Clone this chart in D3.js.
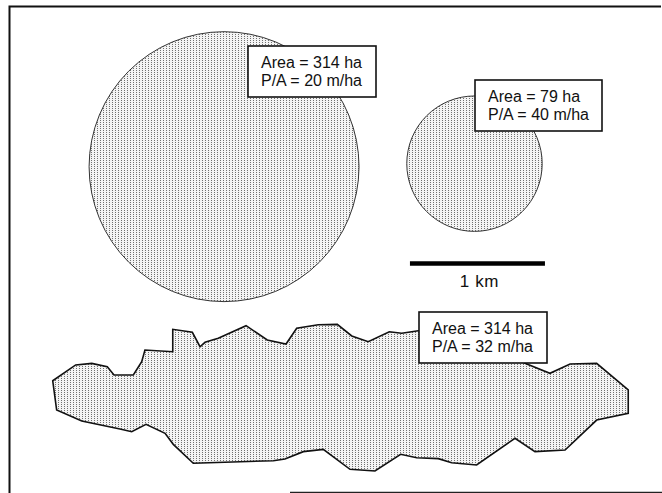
<!DOCTYPE html>
<html>
<head>
<meta charset="utf-8">
<script src="https://cdn.jsdelivr.net/npm/d3@7"></script>
<style>
  html, body { margin: 0; padding: 0; background: #fff; }
  svg { display: block; }
  text { font-family: "Liberation Sans", Arial, sans-serif; fill: #111; }
</style>
</head>
<body>
<div id="chart"></div>
<script>
// ---------- DATA ----------
// Patch areas (ha) and perimeter/area ratios (m/ha)
const patchNames = ["Large circle", "Small circle", "Irregular patch"];
const patchAreas = [314, 79, 314];
const patchPA = [20, 40, 32];
// Circle centres in map units (km)
const circleCentersKm = [[1.593, 1.190], [3.448, 1.168]];
// Irregular patch outline in map units (km)
const irregularOutlineKm = [
  [0.324, 2.776], [0.494, 2.659], [0.613, 2.647], [0.728, 2.672], [0.778, 2.733],
  [0.921, 2.733], [0.983, 2.635], [1.007, 2.548], [1.213, 2.561], [1.213, 2.395],
  [1.358, 2.417], [1.415, 2.524], [1.452, 2.491], [1.550, 2.461], [1.756, 2.368],
  [1.913, 2.474], [2.052, 2.504], [2.131, 2.387], [2.291, 2.361], [2.432, 2.358],
  [2.539, 2.444], [2.661, 2.487], [2.817, 2.413], [2.909, 2.424], [3.032, 2.405],
  [3.415, 2.363], [3.674, 2.563], [3.822, 2.647], [4.007, 2.721], [4.156, 2.652],
  [4.353, 2.647], [4.587, 2.844], [4.587, 3.017], [4.353, 3.067], [4.119, 3.289],
  [3.896, 3.301], [3.748, 3.202], [3.464, 3.400], [3.279, 3.383], [3.180, 3.353],
  [3.020, 3.346], [2.901, 3.321], [2.711, 3.444], [2.526, 3.432], [2.328, 3.284],
  [2.180, 3.301], [2.044, 3.356], [1.958, 3.368], [1.365, 3.387], [1.217, 3.247],
  [1.156, 3.165], [1.015, 3.099], [0.909, 3.153], [0.822, 3.133], [0.539, 3.074],
  [0.353, 2.993]
];
// Scale bar
const scaleBarKm = 1;
const scaleBarStartKm = [2.970, 1.907];
const scaleBarLabel = "1 km";

// ---------- LAYOUT ----------
const W = 662, H = 493;
const labelBoxes = [
  { x: 248, y: 46, w: 128, h: 51 },
  { x: 475, y: 80, w: 127, h: 51 },
  { x: 419, y: 312, w: 128, h: 51 }
];

const svg = d3.select("#chart").append("svg")
  .attr("width", W).attr("height", H);

// map scales: km -> px  (1 km = 135 px)
const x = d3.scaleLinear().domain([0, 4.8]).range([9, 657]);
const y = d3.scaleLinear().domain([0, 3.6]).range([6, 492]);
const kmToPx = d => x(d) - x(0);

// stipple pattern
const defs = svg.append("defs");
const pat = defs.append("pattern")
  .attr("id", "stipple").attr("patternUnits", "userSpaceOnUse")
  .attr("width", 3).attr("height", 2);
pat.append("rect").attr("width", 3).attr("height", 2).attr("fill", "#f4f4f4");
pat.append("rect").attr("x", 1).attr("y", 0).attr("width", 1).attr("height", 1).attr("fill", "#707070");

// frame
svg.append("path")
  .attr("d", `M661,6.5 H9.5 V493`)
  .attr("fill", "none").attr("stroke", "#111").attr("stroke-width", 2);
svg.append("line")
  .attr("x1", 290).attr("x2", 662).attr("y1", 492.5).attr("y2", 492.5)
  .attr("stroke", "#222").attr("stroke-width", 1.5);

// circles (radius from area: r = sqrt(A/pi), A in km^2)
const radiusKm = ha => Math.sqrt((ha / 100) / Math.PI);
svg.selectAll("circle.patch")
  .data(circleCentersKm)
  .join("circle")
  .attr("class", "patch")
  .attr("cx", d => x(d[0]))
  .attr("cy", d => y(d[1]))
  .attr("r", (d, i) => kmToPx(radiusKm(patchAreas[i])))
  .attr("fill", "url(#stipple)")
  .attr("stroke", "#333").attr("stroke-width", 1);

// irregular patch
const line = d3.line().x(d => x(d[0])).y(d => y(d[1])).curve(d3.curveLinearClosed);
svg.append("path")
  .datum(irregularOutlineKm)
  .attr("d", line)
  .attr("fill", "url(#stipple)")
  .attr("stroke", "#111").attr("stroke-width", 1.6)
  .attr("stroke-linejoin", "miter");

// scale bar
svg.append("line")
  .attr("x1", x(scaleBarStartKm[0]))
  .attr("x2", x(scaleBarStartKm[0] + scaleBarKm))
  .attr("y1", y(scaleBarStartKm[1])).attr("y2", y(scaleBarStartKm[1]))
  .attr("stroke", "#000").attr("stroke-width", 4.5);
svg.append("text")
  .attr("x", x(scaleBarStartKm[0] + scaleBarKm / 2) + 2)
  .attr("y", y(scaleBarStartKm[1]) + 23.5)
  .attr("text-anchor", "middle")
  .attr("font-size", 17)
  .attr("letter-spacing", 0.6)
  .text(scaleBarLabel);

// label boxes
const g = svg.selectAll("g.label")
  .data(labelBoxes)
  .join("g").attr("class", "label");
g.append("rect")
  .attr("x", d => d.x).attr("y", d => d.y)
  .attr("width", d => d.w).attr("height", d => d.h)
  .attr("fill", "#fff").attr("stroke", "#111").attr("stroke-width", 1.6);
g.append("text")
  .attr("x", d => d.x + 13).attr("y", d => d.y + 22)
  .attr("font-size", 16)
  .text((d, i) => `Area = ${patchAreas[i]} ha`);
g.append("text")
  .attr("x", d => d.x + 13).attr("y", d => d.y + 40)
  .attr("font-size", 16)
  .text((d, i) => `P/A = ${patchPA[i]} m/ha`);
</script>
</body>
</html>
